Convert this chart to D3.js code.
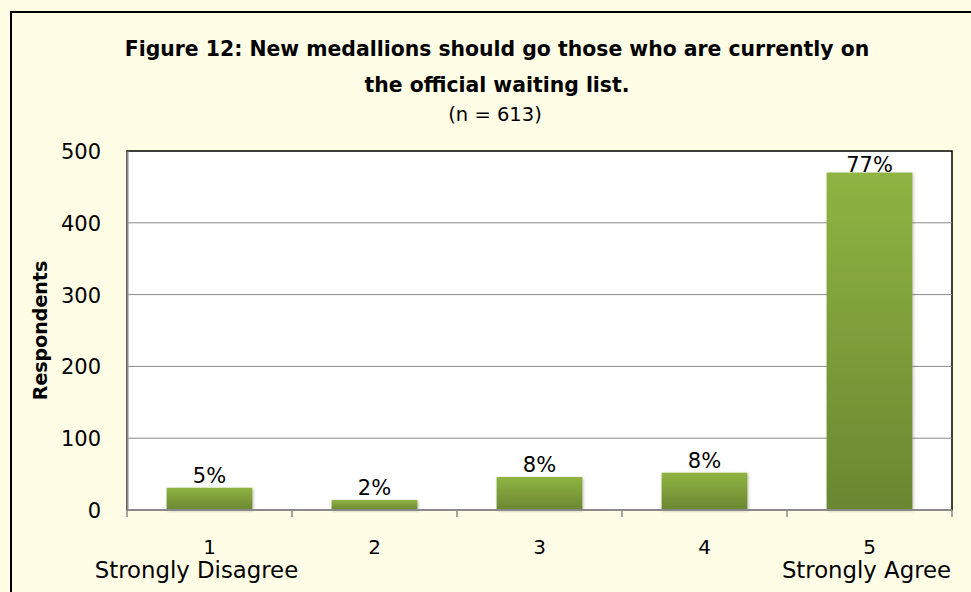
<!DOCTYPE html>
<html>
<head>
<meta charset="utf-8">
<script src="https://cdn.jsdelivr.net/npm/d3@7"></script>
<style>
  body { margin: 0; background: #fffde6; }
  svg text { font-family: "DejaVu Sans", sans-serif; fill: #000; }
</style>
</head>
<body>
<div id="chart"></div>
<script>
// data
const categories = ["1", "2", "3", "4", "5"];
const categoryNotes = ["Strongly Disagree", "", "", "", "Strongly Agree"];
const respondents = [31, 14, 46, 52, 470];
const percentLabels = ["5%", "2%", "8%", "8%", "77%"];
const yTicks = [0, 100, 200, 300, 400, 500];

const W = 971, H = 592;
const margin = {top: 151, right: 19, bottom: 82, left: 127};
const width = W - margin.left - margin.right,
  height = H - margin.top - margin.bottom;

const svg = d3.select("#chart").append("svg")
  .attr("width", W)
  .attr("height", H);

// chart area background and border (runs off the bottom/right of the picture)
svg.append("rect")
  .attr("x", 11).attr("y", 12)
  .attr("width", W + 20).attr("height", H + 20)
  .attr("fill", "#fffde6")
  .attr("stroke", "#000").attr("stroke-width", 2);

const defs = svg.append("defs");
const grad = defs.append("linearGradient")
  .attr("id", "barGrad")
  .attr("x1", 0).attr("y1", 0).attr("x2", 0).attr("y2", 1);
grad.append("stop").attr("offset", "0%").attr("stop-color", "#8fb442");
grad.append("stop").attr("offset", "100%").attr("stop-color", "#6a8731");

const shadow = defs.append("filter").attr("id", "shadow")
  .attr("x", "-10%").attr("y", "-10%").attr("width", "130%").attr("height", "130%");
shadow.append("feDropShadow")
  .attr("dx", 1).attr("dy", 1).attr("stdDeviation", 1.5)
  .attr("flood-color", "#000").attr("flood-opacity", 0.25);

// title
const title = svg.append("g").attr("text-anchor", "middle");
title.append("text").attr("x", 497).attr("y", 56)
  .style("font-weight", "bold").style("font-size", "20.4px")
  .text("Figure 12: New medallions should go those who are currently on");
title.append("text").attr("x", 497).attr("y", 92)
  .style("font-weight", "bold").style("font-size", "20.4px")
  .text("the official waiting list.");
title.append("text").attr("x", 495).attr("y", 121)
  .style("font-size", "19.5px")
  .text("(n = 613)");

const g = svg.append("g")
  .attr("transform", "translate(" + margin.left + "," + margin.top + ")");

g.append("rect")
  .attr("width", width).attr("height", height)
  .attr("fill", "#fff")
  .attr("stroke", "#000").attr("stroke-width", 1.5);

// scales
const x = d3.scaleBand()
  .domain(categories)
  .range([0, width])
  .paddingInner(0.48)
  .paddingOuter(0.24);

const y = d3.scaleLinear()
  .domain([0, 500])
  .range([height, 0]);

// gridlines
g.append("g")
  .selectAll("line")
  .data(yTicks.filter(d => d > 0 && d < 500))
  .enter()
  .append("line")
  .attr("x1", 0).attr("x2", width)
  .attr("y1", d => y(d)).attr("y2", d => y(d))
  .attr("stroke", "#8a8a8a").attr("stroke-width", 1);

// Y axis
const yAxis = g.append("g")
  .call(d3.axisLeft(y).tickValues(yTicks).tickSize(0).tickPadding(26));
yAxis.select(".domain").attr("stroke", "#8a8a8a").attr("stroke-width", 2);
yAxis.selectAll("text")
  .attr("dy", "0.36em")
  .style("font-size", "21px")
  .style("font-family", "'DejaVu Sans', sans-serif");

// bars
g.append("g")
  .selectAll("rect")
  .data(respondents)
  .enter()
  .append("rect")
  .attr("x", (d, i) => x(categories[i]))
  .attr("y", d => y(d))
  .attr("width", x.bandwidth())
  .attr("height", d => height - y(d))
  .attr("fill", "url(#barGrad)")
  .attr("filter", "url(#shadow)");

// data labels (kept inside the plot area, like the original)
g.append("g")
  .selectAll("text")
  .data(respondents)
  .enter()
  .append("text")
  .attr("x", (d, i) => x(categories[i]) + x.bandwidth() / 2)
  .attr("y", d => Math.max(y(d) - 5, 21))
  .attr("text-anchor", "middle")
  .style("font-size", "21px")
  .text((d, i) => percentLabels[i]);

// X axis
const step = x.step();
g.append("line")
  .attr("x1", 0).attr("x2", width)
  .attr("y1", height).attr("y2", height)
  .attr("stroke", "#8a8a8a").attr("stroke-width", 2);
g.append("g")
  .selectAll("line")
  .data(d3.range(categories.length + 1))
  .enter()
  .append("line")
  .attr("x1", d => d * step).attr("x2", d => d * step)
  .attr("y1", height).attr("y2", height + 7)
  .attr("stroke", "#8a8a8a").attr("stroke-width", 1.5);

const xl = g.append("g").attr("text-anchor", "middle");
xl.selectAll(".num")
  .data(categories)
  .enter()
  .append("text")
  .attr("x", d => x(d) + x.bandwidth() / 2)
  .attr("y", height + 44)
  .style("font-size", "20px")
  .text(d => d);
xl.selectAll(".note")
  .data(categoryNotes)
  .enter()
  .append("text")
  .attr("x", (d, i) => x(categories[i]) + x.bandwidth() / 2 + (i === 0 ? -13 : -3))
  .attr("y", height + 68)
  .style("font-size", "22.8px")
  .text(d => d);

// Y axis title
svg.append("text")
  .attr("transform", "translate(47," + (margin.top + height / 2) + ") rotate(-90)")
  .attr("text-anchor", "middle")
  .style("font-weight", "bold").style("font-size", "19px")
  .text("Respondents");
</script>
</body>
</html>
